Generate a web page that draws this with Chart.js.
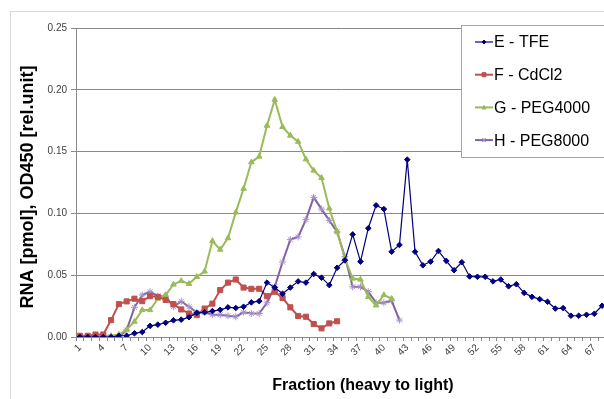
<!DOCTYPE html>
<html><head><meta charset="utf-8">
<script src="https://cdn.jsdelivr.net/npm/chart.js@4/dist/chart.umd.min.js"></script>
<style>
html,body{margin:0;padding:0;overflow:hidden;background:#fff;width:604px;height:399px}
#wrap{position:absolute;left:0;top:0;width:612px;height:399px}
</style></head><body><div id="wrap"><canvas id="c" width="612" height="399"></canvas></div>
<script>
const fractions = [1,2,3,4,5,6,7,8,9,10,11,12,13,14,15,16,17,18,19,20,21,22,23,24,25,26,27,28,29,30,31,32,33,34,35,36,37,38,39,40,41,42,43,44,45,46,47,48,49,50,51,52,53,54,55,56,57,58,59,60,61,62,63,64,65,66,67,68];
const seriesNames = ['E - TFE','F - CdCl2','G - PEG4000','H - PEG8000'];
const tfe = [0,0,0,0,0,0.001,0.001,0.003,0.004,0.009,0.010,0.0115,0.0135,0.014,0.016,0.0195,0.020,0.021,0.022,0.024,0.0235,0.0245,0.028,0.029,0.044,0.040,0.035,0.040,0.045,0.044,0.051,0.048,0.042,0.056,0.062,0.083,0.061,0.088,0.1065,0.1035,0.069,0.0745,0.1435,0.069,0.058,0.061,0.0696,0.0616,0.054,0.0605,0.049,0.0487,0.0487,0.045,0.0465,0.041,0.0427,0.0357,0.0325,0.0306,0.0285,0.023,0.0234,0.0172,0.0172,0.018,0.0188,0.0253];
const cdcl2 = [0.001,0.001,0.002,0.002,0.0137,0.0266,0.0288,0.031,0.029,0.033,0.0325,0.030,0.0266,0.0223,0.019,0.0177,0.023,0.027,0.038,0.044,0.0465,0.040,0.039,0.039,0.033,0.0366,0.0315,0.024,0.017,0.0164,0.0105,0.007,0.011,0.0127];
const peg4000 = [0,0,0,0.001,0.001,0.002,0.006,0.0124,0.0218,0.0218,0.031,0.034,0.0425,0.0454,0.043,0.0487,0.053,0.0777,0.0707,0.080,0.1008,0.120,0.1414,0.146,0.171,0.192,0.170,0.163,0.158,0.1438,0.1347,0.1288,0.104,0.0855,0.0635,0.0473,0.0465,0.0325,0.0256,0.034,0.031];
const peg8000 = [0,0,0,0,0,0,0.0056,0.024,0.034,0.0366,0.033,0.033,0.0245,0.0288,0.0245,0.020,0.020,0.018,0.018,0.0172,0.0164,0.020,0.019,0.019,0.0277,0.0406,0.0607,0.0788,0.081,0.095,0.113,0.1035,0.0944,0.085,0.065,0.0406,0.0406,0.0366,0.0277,0.0277,0.0293,0.0137];
const yTicks = [0,0.05,0.10,0.15,0.20,0.25];
const xTitle = 'Fraction (heavy to light)';
const yTitle = 'RNA [pmol], OD450 [rel.unit]';

const FONT = "Arial, 'Liberation Sans', sans-serif";
const colors = ['#000080','#C0504D','#9BBB59','#8064A2'];
const styles = ['rectRot','rect','triangle','star'];

function mk(i, data, lw, pr, pbc){
  return {label: seriesNames[i], data: data, borderColor: colors[i], backgroundColor: colors[i],
    borderWidth: lw, pointStyle: styles[i], pointRadius: pr, pointBorderColor: pbc || colors[i],
    pointBackgroundColor: colors[i], pointBorderWidth: 1, tension: 0, fill: false};
}

function drawMarker(ctx, style, x, y, r, fill, stroke){
  ctx.save();
  ctx.fillStyle = fill; ctx.strokeStyle = stroke; ctx.lineWidth = 1;
  ctx.beginPath();
  if (style === 'rectRot'){ ctx.moveTo(x, y-r); ctx.lineTo(x+r, y); ctx.lineTo(x, y+r); ctx.lineTo(x-r, y); ctx.closePath(); ctx.fill(); ctx.stroke(); }
  else if (style === 'rect'){ ctx.rect(x-r, y-r, 2*r, 2*r); ctx.fill(); ctx.stroke(); }
  else if (style === 'triangle'){ ctx.moveTo(x, y-r); ctx.lineTo(x+r, y+r*0.8); ctx.lineTo(x-r, y+r*0.8); ctx.closePath(); ctx.fill(); ctx.stroke(); }
  else { ctx.moveTo(x-r,y-r); ctx.lineTo(x+r,y+r); ctx.moveTo(x+r,y-r); ctx.lineTo(x-r,y+r); ctx.moveTo(x,y-r); ctx.lineTo(x,y+r); ctx.stroke(); }
  ctx.restore();
}

const decor = {
  id: 'decor',
  beforeDraw(chart){
    const ctx = chart.ctx;
    ctx.save();
    ctx.fillStyle = '#fff'; ctx.fillRect(0,0,chart.width,chart.height);
    ctx.strokeStyle = '#d9d9d9'; ctx.lineWidth = 1;
    ctx.strokeRect(10.5, 11.5, 800, 600);
    ctx.restore();
  },
  afterDraw(chart){
    const ctx = chart.ctx;
    ctx.save();
    ctx.fillStyle = '#000';
    ctx.font = 'bold 16px ' + FONT;
    ctx.textAlign = 'center'; ctx.textBaseline = 'middle';
    ctx.fillText(xTitle, 363, 386);
    ctx.save();
    ctx.translate(28, 187); ctx.rotate(-Math.PI/2);
    ctx.font = 'bold 18px ' + FONT;
    ctx.fillText(yTitle, 0, 0);
    ctx.restore();
    // legend
    ctx.fillStyle = '#fff';
    ctx.fillRect(461, 25, 200, 132);
    ctx.strokeStyle = '#a6a6a6'; ctx.lineWidth = 1;
    ctx.strokeRect(461.5, 25.5, 200, 132);
    chart.data.datasets.forEach((ds, i) => {
      const y = 42 + i * 32.7;
      ctx.strokeStyle = ds.borderColor; ctx.lineWidth = i === 0 ? 1.2 : 2;
      ctx.beginPath(); ctx.moveTo(475, y); ctx.lineTo(493, y); ctx.stroke();
      drawMarker(ctx, ds.pointStyle, 484, y, 2, ds.pointBackgroundColor, ds.pointBorderColor);
      ctx.fillStyle = '#000'; ctx.font = '16px ' + FONT;
      ctx.textAlign = 'left'; ctx.textBaseline = 'middle';
      ctx.fillText(ds.label, 494, y + 1);
    });
    ctx.restore();
  }
};

new Chart(document.getElementById('c'), {
  type: 'line',
  data: {
    labels: fractions,
    datasets: [
      mk(0, tfe, 1.2, 2.8),
      mk(1, cdcl2, 2, 3.6),
      mk(2, peg4000, 2, 3.2),
      mk(3, peg8000, 2, 3.5, '#a890c8')
    ]
  },
  options: {
    responsive: false, animation: false, devicePixelRatio: 1,
    layout: {padding: {left: 0, top: 28, right: 6, bottom: 0}},
    plugins: {legend: {display: false}, tooltip: {enabled: false}},
    scales: {
      x: {
        type: 'category', offset: true,
        grid: {offset: true, drawOnChartArea: false, tickLength: 4, color: '#8a8a8a'},
        border: {color: '#8a8a8a'},
        ticks: {autoSkip: false, maxRotation: 45, minRotation: 45, padding: 1,
          font: {family: FONT, size: 10}, color: '#404040',
          callback: (v, i) => (i % 3 === 0 ? String(fractions[i]) : '')},
        afterFit: s => { s.height = 62; }
      },
      y: {
        min: 0, max: 0.25,
        afterBuildTicks: s => { s.ticks = yTicks.map(v => ({value: v})); },
        grid: {color: '#8a8a8a', tickLength: 5},
        border: {color: '#8a8a8a'},
        ticks: {font: {family: FONT, size: 10}, color: '#404040', padding: 4,
          callback: v => Number(v).toFixed(2)},
        afterFit: s => { s.width = 76; }
      }
    }
  },
  plugins: [decor]
});
</script></body></html>
